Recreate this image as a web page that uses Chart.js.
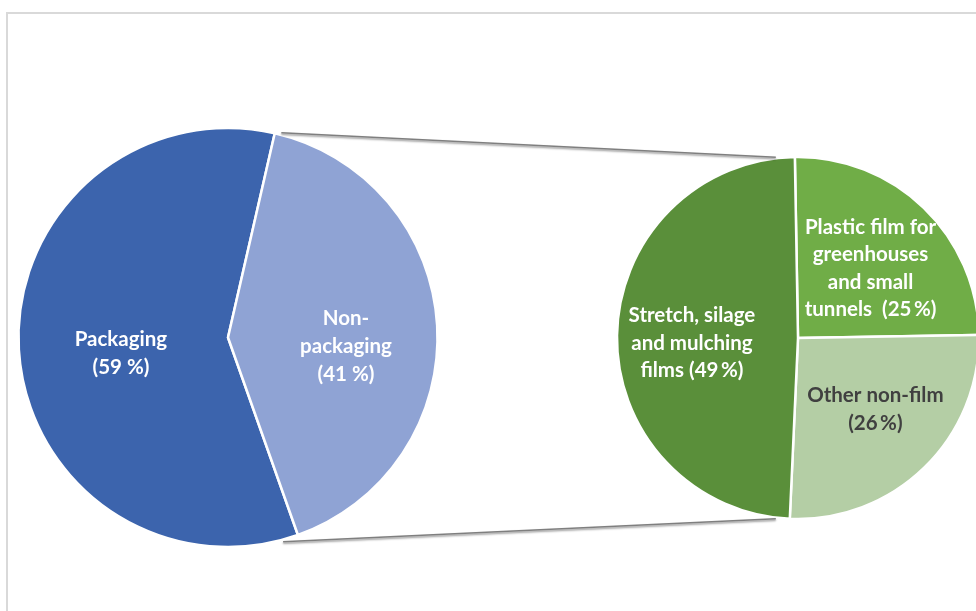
<!DOCTYPE html>
<html>
<head>
<meta charset="utf-8">
<script src="https://cdn.jsdelivr.net/npm/chart.js@4"></script>
<style>
  html, body { margin: 0; padding: 0; background: #fff; overflow: hidden; }
  #wrap { position: relative; width: 976px; height: 611px; overflow: hidden; }
  #frame { position: absolute; left: 6px; top: 12px; width: 1100px; height: 800px;
           border: 2px solid #d9d9d9; box-sizing: border-box; }
  canvas { position: absolute; left: 0; top: 0; }
</style>
</head>
<body>
<div id="wrap">
  <div id="frame"></div>
  <canvas id="mainPie" width="976" height="611"></canvas>
  <canvas id="subPie" width="976" height="611"></canvas>
</div>
<script>
// main split of agricultural plastics
var mainCategories = ["Packaging", "Non-packaging"];
var mainValues = [59, 41];
var mainLabelLines = [["Packaging", "({p} %)"], ["Non-", "packaging", "({p} %)"]];

// breakdown of the non-packaging part
var subCategories = ["Plastic film for greenhouses and small tunnels", "Other non-film", "Stretch, silage and mulching films"];
var subValues = [25, 26, 49];
var subLabelLines = [["Plastic film for", "greenhouses", "and small", "tunnels  ({p}\u2009%)"],
                     ["Other non-film", "({p}\u2009%)"],
                     ["Stretch, silage", "and mulching", "films ({p}\u2009%)"]];

var FONT = "bold 20.5px Lato";

// draws the text inside each slice
var sliceLabels = {
    id: "sliceLabels",
    afterDatasetsDraw: function(chart, args, opts) {
        var ctx = chart.ctx;
        var arcs = chart.getDatasetMeta(0).data;
        var values = chart.data.datasets[0].data;
        ctx.save();
        ctx.font = FONT;
        ctx.textAlign = "center";
        ctx.textBaseline = "middle";
        arcs.forEach(function(arc, i) {
            var mid = (arc.startAngle + arc.endAngle) / 2;
            var r = arc.outerRadius * opts.place[i][0];
            var x = arc.x + Math.cos(mid) * r;
            var y = arc.y + Math.sin(mid) * r + opts.place[i][1];
            var lines = opts.lines[i];
            var top = y - (lines.length - 1) * opts.lineHeight / 2;
            ctx.fillStyle = opts.colors[i];
            lines.forEach(function(t, k) {
                ctx.fillText(t.replace("{p}", values[i]), x, top + k * opts.lineHeight);
            });
        });
        ctx.restore();
    }
};

var mainChart = new Chart(document.getElementById("mainPie"), {
    type: "pie",
    data: {
        labels: mainCategories,
        datasets: [{
            data: mainValues,
            backgroundColor: ["#3c64ad", "#8fa3d4"],
            borderColor: "#ffffff",
            borderWidth: 2.5,
            radius: 209.5,
            clip: false
        }]
    },
    options: {
        responsive: false,
        animation: false,
        rotation: 160.5,
        layout: { padding: { left: 0, right: 520, top: 64, bottom: 0 } },
        plugins: {
            legend: { display: false },
            tooltip: { enabled: false },
            sliceLabels: {
                lines: mainLabelLines,
                colors: ["#ffffff", "#ffffff"],
                place: [[0.512, 9.3], [0.564, 15.8]],
                lineHeight: 28
            }
        }
    },
    plugins: [sliceLabels]
});

// lines linking the non-packaging slice to the second pie
var connectors = {
    id: "connectors",
    afterDatasetsDraw: function(chart) {
        var big = mainChart.getDatasetMeta(0).data[1];
        var small = chart.getDatasetMeta(0).data[0];
        var deg = Math.PI / 180;
        var ends = [
            [big.startAngle + 1.7 * deg, -Math.PI / 2 - 7 * deg],
            [big.endAngle + 4.4 * deg, Math.PI / 2 + 7 * deg]
        ];
        var ctx = chart.ctx;
        ctx.save();
        ctx.strokeStyle = "#7f7f7f";
        ctx.lineWidth = 1.5;
        ctx.shadowColor = "rgba(0,0,0,0.45)";
        ctx.shadowBlur = 2;
        ctx.shadowOffsetY = 1.5;
        ends.forEach(function(e) {
            ctx.beginPath();
            ctx.moveTo(big.x + Math.cos(e[0]) * (big.outerRadius + 2), big.y + Math.sin(e[0]) * (big.outerRadius + 2));
            ctx.lineTo(small.x + Math.cos(e[1]) * (small.outerRadius + 1), small.y + Math.sin(e[1]) * (small.outerRadius + 1));
            ctx.stroke();
        });
        ctx.restore();
    }
};

var subChart = new Chart(document.getElementById("subPie"), {
    type: "pie",
    data: {
        labels: subCategories,
        datasets: [{
            data: subValues,
            backgroundColor: ["#70ad47", "#b4cea5", "#5a8f3a"],
            borderColor: "#ffffff",
            borderWidth: 2.5,
            radius: 181,
            clip: false
        }]
    },
    options: {
        responsive: false,
        animation: false,
        rotation: -1,
        layout: { padding: { left: 620, right: 0, top: 65, bottom: 0 } },
        plugins: {
            legend: { display: false },
            tooltip: { enabled: false },
            sliceLabels: {
                lines: subLabelLines,
                colors: ["#ffffff", "#404040", "#ffffff"],
                place: [[0.577, 5.6], [0.613, -8], [0.586, 6.5]],
                lineHeight: 27.5
            }
        }
    },
    plugins: [sliceLabels, connectors]
});
</script>
</body>
</html>
